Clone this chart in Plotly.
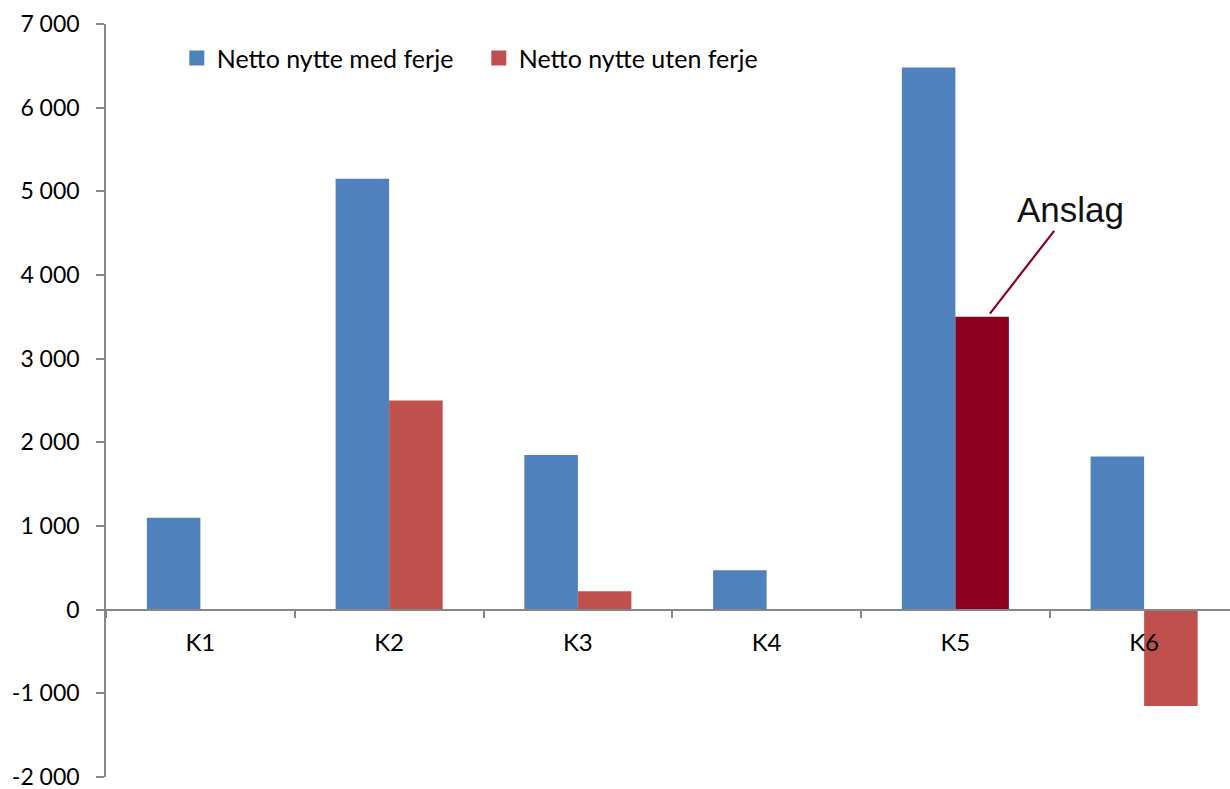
import plotly.graph_objects as go

# Nettonytte per konsept (mill. kr)
categories = ["K1", "K2", "K3", "K4", "K5", "K6"]
med_ferje = [1100, 5150, 1850, 470, 6480, 1830]
uten_ferje = [None, 2500, 220, None, 3500, -1150]
series_names = ["Netto nytte med ferje", "Netto nytte uten ferje"]

y_ticks = [-2000, -1000, 0, 1000, 2000, 3000, 4000, 5000, 6000, 7000]
y_min, y_max = y_ticks[0], y_ticks[-1]

# The estimated value (K5 without ferry) is highlighted in a darker red
estimate_category = "K5"
estimate_label = "Anslag"

BLUE = "#4F81BD"
RED = "#C0504D"
DARK_RED = "#8B0021"
AXIS = "#868686"
FONT = "Lato, Carlito, 'Open Sans', sans-serif"


def fmt(v):
    s = f"{abs(v):,}".replace(",", " ")
    return ("-" if v < 0 else "") + s


red_colors = [DARK_RED if c == estimate_category else RED for c in categories]

fig = go.Figure()
fig.add_trace(go.Bar(x=categories, y=med_ferje, name=series_names[0],
                     showlegend=False,
                     marker=dict(color=BLUE, line=dict(width=0))))
fig.add_trace(go.Bar(x=categories, y=uten_ferje, name=series_names[1],
                     showlegend=False,
                     marker=dict(color=red_colors, line=dict(width=0))))

# Legend entries with larger square swatches
for name, color in zip(series_names, [BLUE, RED]):
    fig.add_trace(go.Scatter(x=[None], y=[None], mode="markers", name=name,
                             marker=dict(symbol="square", size=15, color=color),
                             hoverinfo="skip"))

W, H = 1230, 789
ml, mr, mt, mb = 106, 0, 24, 12
plot_w = W - ml - mr
cat_px = 188.75
x_range = [-0.5, -0.5 + plot_w / cat_px]

zero_pos = (0 - y_min) / (y_max - y_min)

est_idx = categories.index(estimate_category)

fig.update_layout(
    width=W, height=H,
    margin=dict(l=ml, r=mr, t=mt, b=mb, pad=0, autoexpand=False),
    paper_bgcolor="white", plot_bgcolor="white",
    barmode="group", bargap=0.433, bargroupgap=0,
    font=dict(family=FONT, size=23, color="#000000"),
    showlegend=True,
    legend=dict(orientation="h", x=0.063, y=0.985, xanchor="left", yanchor="top",
                font=dict(size=25, family=FONT), bgcolor="rgba(0,0,0,0)",
                entrywidth=257, itemsizing="trace"),
    xaxis=dict(range=x_range, anchor="free", position=zero_pos,
               showline=True, linecolor=AXIS, linewidth=1.5,
               ticks="outside", ticklen=8, tickcolor=AXIS, tickwidth=1.5,
               tickson="boundaries", showgrid=False, zeroline=False,
               ticklabelstandoff=12, automargin=False,
               tickfont=dict(size=24, family=FONT), fixedrange=True),
    yaxis=dict(range=[y_min, y_max], tickvals=y_ticks,
               ticktext=[fmt(v) for v in y_ticks],
               showline=True, linecolor=AXIS, linewidth=1.5,
               ticks="outside", ticklen=8, tickcolor=AXIS, tickwidth=1.5,
               ticklabelstandoff=12, ticklabeloverflow="allow", automargin=False,
               showgrid=False, zeroline=False,
               tickfont=dict(size=23, family=FONT)),
    annotations=[dict(
        x=est_idx + 0.17, y=uten_ferje[est_idx], xref="x", yref="y",
        text=estimate_label, showarrow=True, arrowhead=0, arrowwidth=2.2,
        arrowcolor=DARK_RED, ax=83, ay=-107, standoff=4,
        font=dict(family="Liberation Sans, Arial, sans-serif", size=35, color="#111111"),
    )],
)

fig.write_html("out.html")
